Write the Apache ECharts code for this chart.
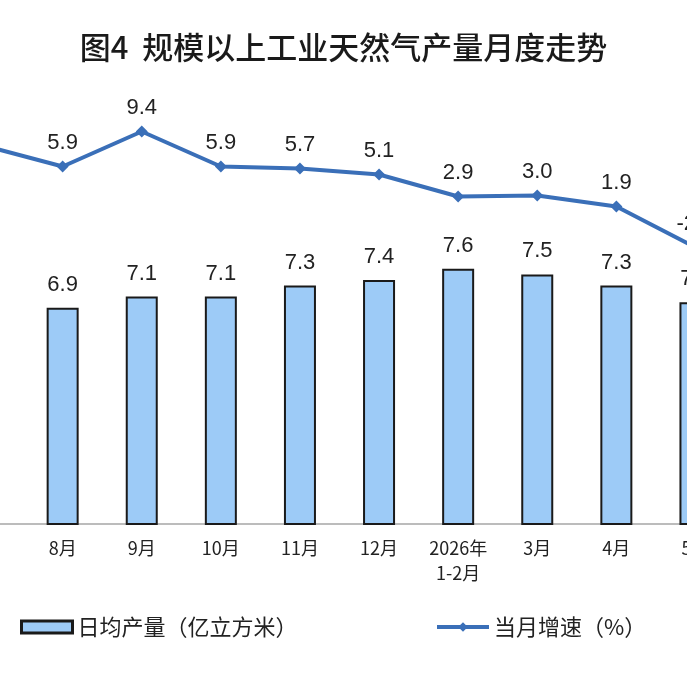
<!DOCTYPE html>
<html>
<head>
<meta charset="utf-8">
<script src="https://cdn.jsdelivr.net/npm/echarts@6/dist/echarts.min.js"></script>
<style>
html, body { margin: 0; padding: 0; background: #fff; }
#main { width: 687px; height: 687px; }
</style>
</head>
<body>
<div id="main"></div>
<script>
// 数据
const months = ['7月', '8月', '9月', '10月', '11月', '12月', '2026年\n1-2月', '3月', '4月', '5月'];
const dailyOutput = [7.0, 6.9, 7.1, 7.1, 7.3, 7.4, 7.6, 7.5, 7.3, 7.0];   // 日均产量（亿立方米）
const monthlyGrowth = [8.0, 5.9, 9.4, 5.9, 5.7, 5.1, 2.9, 3.0, 1.9, -2.2]; // 当月增速（%）

const chart = echarts.init(document.getElementById('main'));

const numFont = 'Liberation Sans, Arial, sans-serif';
const cjkFont = 'Noto Sans CJK SC, sans-serif';

chart.setOption({
    animation: false,
    backgroundColor: '#fff',
    title: {
        text: '图4  规模以上工业天然气产量月度走势',
        left: 'center',
        top: 27,
        textStyle: {
            fontFamily: cjkFont,
            fontSize: 31,
            fontWeight: 500,
            color: '#1a1a1a'
        }
    },
    legend: [
        {
            data: ['日均产量（亿立方米）'],
            left: 20,
            top: 616,
            padding: 0,
            icon: 'rect',
            itemWidth: 51,
            itemHeight: 12,
            itemStyle: { borderColor: '#1a1a1a', borderWidth: 3 },
            textStyle: { fontFamily: cjkFont, fontSize: 22, color: '#222' }
        },
        {
            data: ['当月增速（%）'],
            left: 435,
            top: 616,
            padding: 0,
            itemWidth: 52,
            itemHeight: 12,
            lineStyle: { width: 4 },
            textStyle: { fontFamily: cjkFont, fontSize: 22, color: '#222' }
        }
    ],
    grid: {
        left: -56,
        right: -48,
        top: 108,
        bottom: 163,
        outerBoundsMode: 'none'
    },
    xAxis: {
        type: 'category',
        data: months,
        axisLine: { onZero: false, lineStyle: { color: '#a6a6a6', width: 1.5 } },
        axisTick: { inside: true, length: 6, lineStyle: { color: '#a6a6a6' } },
        axisLabel: {
            margin: 12,
            fontFamily: cjkFont,
            fontSize: 18,
            lineHeight: 25,
            color: '#222'
        }
    },
    yAxis: [
        {
            type: 'value',
            min: 3,
            max: 10.5,
            show: false,
            splitLine: { show: false }
        },
        {
            type: 'value',
            min: -29.85,
            max: 11.75,
            show: false,
            splitLine: { show: false }
        }
    ],
    series: [
        {
            name: '日均产量（亿立方米）',
            type: 'bar',
            data: dailyOutput,
            barWidth: 32,
            yAxisIndex: 0,
            itemStyle: { color: '#9dcbf7', borderColor: '#1a1a1a', borderWidth: 2 },
            label: {
                show: true,
                position: 'top',
                distance: 12,
                fontFamily: numFont,
                fontSize: 22,
                color: '#222',
                formatter: p => p.value.toFixed(1)
            }
        },
        {
            name: '当月增速（%）',
            type: 'line',
            data: monthlyGrowth,
            yAxisIndex: 1,
            symbol: 'diamond',
            symbolSize: 12,
            lineStyle: { color: '#3a6fb8', width: 4 },
            itemStyle: { color: '#3a6fb8' },
            z: 5,
            label: {
                show: true,
                position: 'top',
                distance: 7,
                fontFamily: numFont,
                fontSize: 22,
                color: '#222',
                formatter: p => p.value.toFixed(1)
            }
        }
    ]
});
</script>
</body>
</html>
